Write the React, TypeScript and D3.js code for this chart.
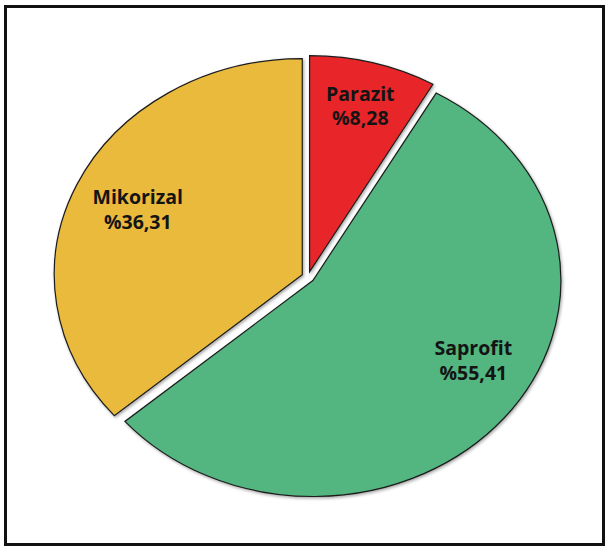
import React from "react";
import * as d3 from "d3";

const categories = ["Parazit", "Saprofit", "Mikorizal"];
const values = [8.28, 55.41, 36.31];
const valueLabels = ["%8,28", "%55,41", "%36,31"];
const colors = ["#E8282C", "#52B57F", "#EABA3C"];

const W = 605;
const H = 547;
const CX = 308;
const CY = 277;
const RY = 216;
const SX = 248 / 216;
const EXPLODE = 5.5;

// label placement: radius fraction and angle (degrees, clockwise from top)
const labelPlacement = [
  { r: 0.82, angle: null as number | null },
  { r: 0.77, angle: 120 },
  { r: 0.755, angle: null as number | null },
];

export default function App() {
  const data = categories.map((c, i) => ({ name: c, value: values[i], label: valueLabels[i], color: colors[i] }));
  const pie = d3
    .pie<any>()
    .sort(null)
    .value((d: any) => d.value)
    .startAngle(0)
    .endAngle(2 * Math.PI);
  const arcs = pie(data);
  const arc = d3.arc<any>().innerRadius(0).outerRadius(RY);

  return (
    <svg
      width={W}
      height={H}
      viewBox={`0 0 ${W} ${H}`}
      style={{ position: "absolute", left: 0, top: 0, background: "#fff" }}
    >
      <defs>
        <filter id="sh" x="-10%" y="-10%" width="120%" height="120%">
          <feDropShadow dx="1" dy="1.5" stdDeviation="1.5" floodColor="#000" floodOpacity="0.35" />
        </filter>
      </defs>
      <rect x={0} y={0} width={W} height={H} fill="#fff" />
      <rect x={5.5} y={6.5} width={598} height={538} fill="none" stroke="#111" strokeWidth={3} />
      {arcs.map((a, i) => {
        const mid = (a.startAngle + a.endAngle) / 2;
        const ox = Math.sin(mid) * EXPLODE * SX;
        const oy = -Math.cos(mid) * EXPLODE;
        return (
          <g key={i} transform={`translate(${CX + ox},${CY + oy}) scale(${SX},1)`} filter="url(#sh)">
            <path
              d={arc(a) as string}
              fill={a.data.color}
              stroke="#1c1c1c"
              strokeWidth={1.2}
              vectorEffect="non-scaling-stroke"
              strokeLinejoin="miter"
            />
          </g>
        );
      })}
      {arcs.map((a, i) => {
        const p = labelPlacement[i];
        const ang = p.angle !== null ? (p.angle * Math.PI) / 180 : (a.startAngle + a.endAngle) / 2;
        const x = CX + Math.sin(ang) * p.r * RY * SX;
        const y = CY - Math.cos(ang) * p.r * RY;
        return (
          <text
            key={"t" + i}
            x={x}
            y={y}
            textAnchor="middle"
            fontFamily="'Open Sans', 'DejaVu Sans', sans-serif"
            fontWeight="bold"
            fontSize={19.5}
            fill="#141414"
          >
            <tspan x={x} dy={-5}>{a.data.name}</tspan>
            <tspan x={x} dy={24.5}>{a.data.label}</tspan>
          </text>
        );
      })}
    </svg>
  );
}
